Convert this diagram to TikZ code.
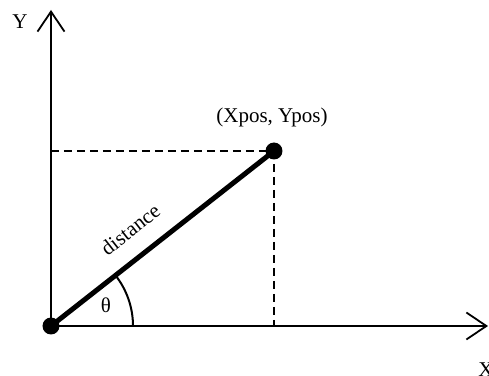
\documentclass[tikz,border=0pt]{standalone}
\usepackage{fontspec}
\setmainfont{Liberation Serif}
\usetikzlibrary{arrows.meta}

\begin{document}
\begin{tikzpicture}[
  x=0.5pt, y=0.5pt,
  every node/.style={font=\fontsize{10.5}{12}\selectfont, inner sep=1pt},
  axis/.style={line width=1pt, -{Straight Barb[length=10pt, width=13.5pt, line width=0.9pt]}},
  guide/.style={line width=1pt, dash pattern=on 4pt off 2.5pt},
  radius line/.style={line width=2.5pt},
  dot/.style={circle, fill=black, inner sep=0pt, minimum size=8.5pt}
]
\useasboundingbox (0,0) rectangle (489,376);
\clip (0,0) rectangle (489,376);

\coordinate (origin) at (51,50);
\coordinate (xend) at (488,50);
\coordinate (yend) at (51,366);
\coordinate (pos) at (274,225);
\coordinate (xfoot) at (274,50);
\coordinate (yfoot) at (51,225);

% axes
\draw[axis] (origin) -- (xend);
\draw[axis] (origin) -- (yend);
\node (ylabel) at (20,354) {Y};
\node (xlabel) at (486,6) {X};

% projections
\draw[guide] (yfoot) -- (pos);
\draw[guide] (pos) -- (xfoot);

% distance and angle
\draw[radius line] (origin) -- node[pos=0.43, above, sloped, yshift=7.5pt] (dist) {distance} (pos);
\draw[line width=1pt] (origin) ++(82,0) arc[start angle=0, end angle=38.3, radius=82];
\node (theta) at (106,71) {θ};

\node[dot] (odot) at (origin) {};
\node[dot] (pdot) at (pos) {};
\node (poslabel) at (272,259) {(Xpos, Ypos)};
\end{tikzpicture}
\end{document}
